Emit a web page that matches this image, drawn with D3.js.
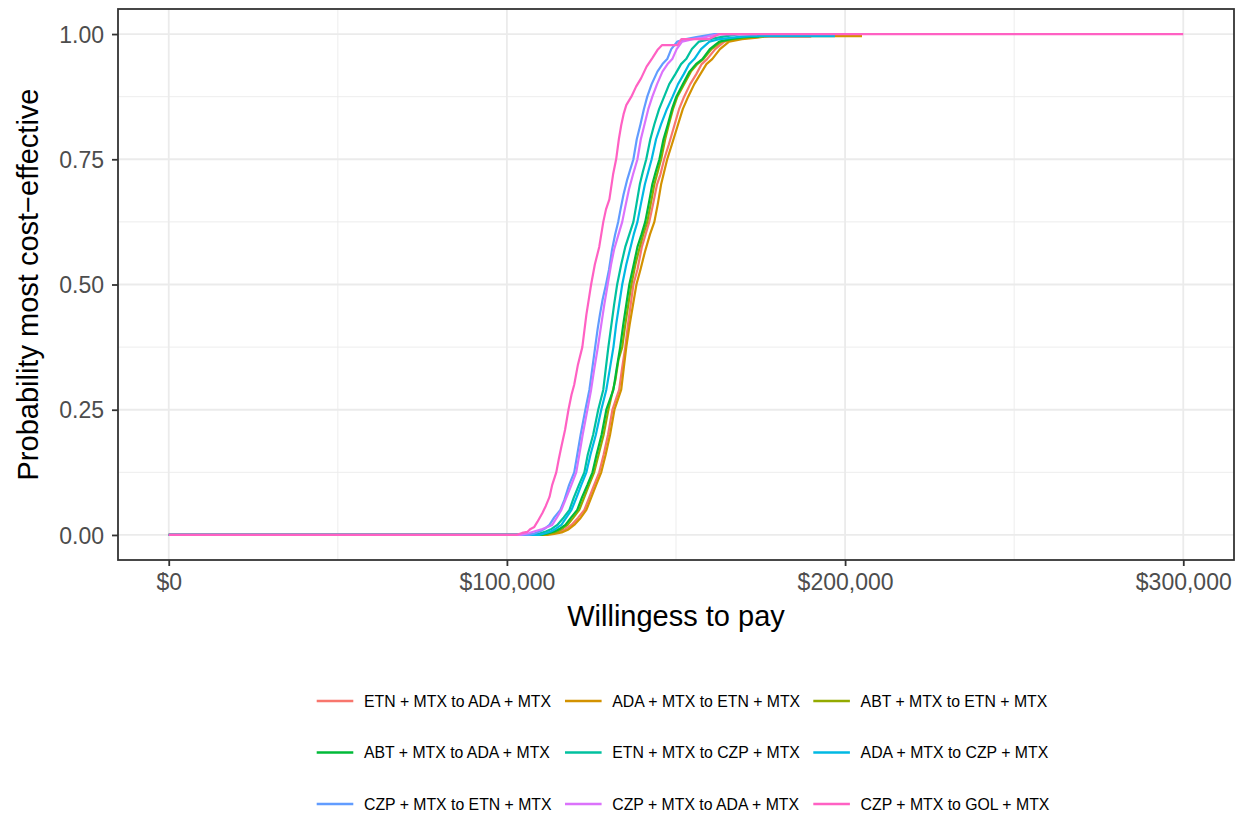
<!DOCTYPE html>
<html>
<head>
<meta charset="utf-8">
<script src="https://cdn.jsdelivr.net/npm/d3@7"></script>
<style>
    body { margin: 0; background: #ffffff; }
    text { font-family: "Liberation Sans", Arial, Helvetica, sans-serif; }
</style>
</head>
<body>
<svg id="chart" width="1246" height="818"></svg>
<script>
// willingness to pay in $ thousands, probability most cost-effective
var etnToAda = [[0,0],[111,0],[112.6,0.002],[115,0.005],[117.2,0.011],[119.1,0.02],[121,0.034],[122.9,0.05],[124.3,0.074],[125.8,0.1],[127.3,0.125],[128.6,0.16],[129.9,0.2],[131.2,0.25],[132.2,0.27],[133.2,0.29],[134,0.33],[135,0.375],[135.8,0.42],[136.6,0.46],[137.4,0.5],[138.6,0.53],[139.9,0.575],[141,0.6],[142.1,0.625],[143.2,0.66],[144.4,0.7],[145.4,0.72],[146.5,0.75],[147.9,0.78],[149.4,0.815],[150.9,0.85],[152.4,0.875],[154.2,0.9],[156,0.92],[157.6,0.94],[159.2,0.95],[161.6,0.97],[164.3,0.985],[168,0.99],[174.6,0.995],[190,0.995]];
var adaToEtn = [[0,0],[112,0],[114,0.002],[116.2,0.005],[118.2,0.011],[119.9,0.02],[121.8,0.034],[123.5,0.05],[124.9,0.074],[126.4,0.1],[127.9,0.125],[129.2,0.16],[130.5,0.2],[131.8,0.25],[132.8,0.27],[133.8,0.29],[134.5,0.33],[135.3,0.375],[136.3,0.42],[137.3,0.46],[138.3,0.5],[139.5,0.53],[140.8,0.565],[142.3,0.6],[143.6,0.625],[144.6,0.66],[145.6,0.7],[146.5,0.725],[147.4,0.75],[148.8,0.78],[150.4,0.815],[152,0.85],[153.6,0.875],[155.4,0.9],[157.2,0.92],[159,0.94],[160.7,0.95],[163,0.97],[165.7,0.985],[169.5,0.99],[174,0.993],[177.5,0.996],[205,0.996]];
var abtToEtn = [[0,0],[110.5,0],[112.6,0.003],[114.5,0.006],[116.3,0.012],[117.9,0.02],[119.6,0.034],[121.4,0.05],[122.8,0.074],[124.3,0.1],[125.8,0.125],[127.1,0.16],[128.6,0.2],[130,0.25],[131.2,0.285],[132.1,0.31],[133,0.35],[134.1,0.375],[135,0.42],[135.9,0.46],[136.8,0.5],[138,0.54],[139.1,0.57],[140.3,0.6],[141.5,0.625],[142.5,0.66],[143.6,0.7],[144.6,0.725],[145.6,0.75],[146.8,0.79],[147.9,0.82],[149.1,0.85],[150.4,0.875],[152.4,0.9],[154.4,0.925],[156.3,0.94],[158.1,0.95],[160.5,0.97],[163.4,0.985],[167,0.99],[173.1,0.995],[176,0.995]];
var abtToAda = [[0,0],[110,0],[112,0.003],[114,0.007],[115.8,0.013],[117.3,0.02],[119,0.035],[120.8,0.05],[122.2,0.075],[123.8,0.1],[125.3,0.125],[126.5,0.16],[128,0.2],[129.4,0.25],[131.5,0.29],[132.4,0.33],[133.5,0.375],[134.4,0.42],[135.3,0.46],[136.2,0.5],[137.5,0.54],[138.6,0.575],[139.8,0.6],[140.9,0.625],[141.9,0.66],[143,0.7],[144,0.725],[145.1,0.75],[146.3,0.79],[147.6,0.82],[148.8,0.85],[150.1,0.875],[152,0.9],[154,0.925],[155.9,0.94],[157.8,0.95],[160,0.97],[162.8,0.985],[166,0.99],[170,0.994],[174.6,0.995]];
var etnToCzp = [[0,0],[108,0],[109.6,0.003],[111.5,0.007],[113.2,0.012],[114.9,0.02],[116.8,0.035],[118.5,0.05],[119.8,0.075],[121.3,0.1],[122.9,0.125],[123.9,0.16],[125.5,0.2],[127,0.25],[128.5,0.29],[129.2,0.33],[130,0.375],[130.9,0.42],[131.7,0.46],[132.6,0.5],[133.8,0.54],[135,0.575],[136.2,0.6],[137.4,0.625],[138.3,0.66],[139.3,0.7],[140.2,0.725],[141.2,0.75],[142.4,0.79],[143.6,0.82],[145,0.85],[146.5,0.875],[148,0.9],[149.8,0.92],[151.5,0.94],[153,0.95],[154.7,0.97],[156.8,0.985],[160,0.99],[164,0.995],[168.7,1],[185,1]];
var adaToCzp = [[0,0],[109.5,0],[111.1,0.003],[113,0.007],[114.6,0.013],[116.1,0.02],[117.6,0.035],[119.1,0.05],[120.6,0.075],[122,0.1],[123.5,0.125],[124.7,0.16],[126.3,0.2],[127.9,0.25],[129.4,0.29],[130.4,0.33],[131.5,0.375],[132.3,0.42],[133.2,0.46],[134.1,0.5],[135.3,0.54],[136.4,0.57],[137.5,0.6],[138.6,0.625],[139.6,0.66],[140.8,0.7],[141.8,0.725],[142.8,0.75],[144.1,0.79],[145.6,0.82],[147.3,0.85],[149,0.875],[150.6,0.9],[152.3,0.92],[153.9,0.94],[155.4,0.95],[157.4,0.97],[159.9,0.985],[163,0.99],[168,0.994],[172,0.996],[197,0.996]];
var czpToEtn = [[0,0],[106.5,0],[108.1,0.003],[110,0.008],[111.5,0.014],[112.6,0.02],[114,0.035],[115.8,0.05],[117,0.07],[118.4,0.1],[119.9,0.125],[120.8,0.16],[121.8,0.2],[123.2,0.25],[124.4,0.29],[125.2,0.33],[126.1,0.375],[126.8,0.41],[127.5,0.44],[128.3,0.47],[129.3,0.5],[130.2,0.53],[131.1,0.57],[132,0.6],[132.9,0.625],[133.6,0.65],[134.5,0.68],[135.6,0.71],[136.5,0.73],[137.4,0.75],[138.4,0.79],[139.5,0.82],[140.5,0.85],[141.5,0.875],[142.8,0.9],[144.5,0.925],[146,0.94],[147.4,0.95],[148.6,0.97],[150.4,0.985],[153,0.99],[156,0.994],[161.3,1],[172,1]];
var czpToAda = [[0,0],[104,0],[106.6,0.004],[108.5,0.008],[110.5,0.012],[112,0.016],[113.4,0.02],[114.8,0.035],[116.1,0.05],[117.3,0.07],[118.8,0.095],[120.5,0.125],[121.4,0.16],[122.4,0.2],[123.8,0.25],[124.9,0.29],[125.8,0.33],[126.9,0.375],[127.9,0.42],[128.8,0.46],[129.8,0.5],[130.8,0.54],[131.7,0.57],[133,0.6],[134.1,0.625],[135,0.655],[136.1,0.69],[137.3,0.72],[138.6,0.75],[139.6,0.79],[140.7,0.82],[141.8,0.85],[143,0.875],[144.4,0.9],[146,0.925],[147.5,0.94],[148.9,0.95],[150.2,0.97],[151.8,0.985],[155,0.99],[158,0.993],[162.8,1],[174,1]];
var czpToGol = [[0,0],[102.8,0],[104.5,0.004],[106,0.006],[107,0.012],[108.1,0.016],[109,0.026],[110.5,0.044],[111.5,0.058],[112.6,0.076],[113.4,0.1],[114.6,0.125],[115.3,0.15],[116.1,0.176],[117.2,0.21],[118.2,0.25],[119.1,0.28],[119.9,0.3],[121,0.34],[122.3,0.375],[123.5,0.44],[124.9,0.5],[126,0.54],[127.3,0.575],[128.5,0.625],[129.3,0.65],[130.3,0.67],[131.4,0.72],[132.3,0.75],[133.1,0.79],[133.8,0.818],[134.5,0.84],[135.3,0.858],[136.8,0.875],[138.2,0.895],[139.7,0.912],[141.3,0.935],[143,0.952],[144.5,0.968],[145.9,0.978],[150.4,0.978],[151.6,0.99],[159.8,0.99],[162.8,1],[300,1]];

var seriesNames = ["ETN + MTX to ADA + MTX", "ADA + MTX to ETN + MTX", "ABT + MTX to ETN + MTX",
    "ABT + MTX to ADA + MTX", "ETN + MTX to CZP + MTX", "ADA + MTX to CZP + MTX",
    "CZP + MTX to ETN + MTX", "CZP + MTX to ADA + MTX", "CZP + MTX to GOL + MTX"];
var seriesValues = [etnToAda, adaToEtn, abtToEtn, abtToAda, etnToCzp, adaToCzp, czpToEtn, czpToAda, czpToGol];
var seriesColors = ["#F8766D", "#D39200", "#93AA00", "#00BA38", "#00C19F", "#00B9E3", "#619CFF", "#DB72FB", "#FF61C3"];

var xTicks = [0, 100000, 200000, 300000];
var xMinorTicks = [50000, 150000, 250000];
var yTicks = [0, 0.25, 0.5, 0.75, 1];
var yMinorTicks = [0.125, 0.375, 0.625, 0.875];

var svg = d3.select("#chart");
var panel = {left: 118, right: 1234, top: 9, bottom: 560};

// ggplot style 5% expansion of the data range
var x = d3.scaleLinear().domain([-15000, 315000]).range([panel.left, panel.right]);
var y = d3.scaleLinear().domain([-0.05, 1.05]).range([panel.bottom, panel.top]);

var grid = svg.append("g");
grid.selectAll("line.xminor").data(xMinorTicks).enter().append("line")
    .attr("x1", function (d) { return x(d); }).attr("x2", function (d) { return x(d); })
    .attr("y1", panel.top).attr("y2", panel.bottom)
    .attr("stroke", "#EBEBEB").attr("stroke-width", 0.9);
grid.selectAll("line.yminor").data(yMinorTicks).enter().append("line")
    .attr("y1", function (d) { return y(d); }).attr("y2", function (d) { return y(d); })
    .attr("x1", panel.left).attr("x2", panel.right)
    .attr("stroke", "#EBEBEB").attr("stroke-width", 0.9);
grid.selectAll("line.xmajor").data(xTicks).enter().append("line")
    .attr("x1", function (d) { return x(d); }).attr("x2", function (d) { return x(d); })
    .attr("y1", panel.top).attr("y2", panel.bottom)
    .attr("stroke", "#EBEBEB").attr("stroke-width", 1.8);
grid.selectAll("line.ymajor").data(yTicks).enter().append("line")
    .attr("y1", function (d) { return y(d); }).attr("y2", function (d) { return y(d); })
    .attr("x1", panel.left).attr("x2", panel.right)
    .attr("stroke", "#EBEBEB").attr("stroke-width", 1.8);

var line = d3.line()
    .x(function (d) { return x(d[0] * 1000); })
    .y(function (d) { return y(d[1]); });

svg.append("g").selectAll("path").data(seriesValues).enter().append("path")
    .attr("d", line)
    .attr("fill", "none")
    .attr("stroke", function (d, i) { return seriesColors[i]; })
    .attr("stroke-width", 2.2)
    .attr("stroke-linejoin", "round");

svg.append("rect")
    .attr("x", panel.left).attr("y", panel.top)
    .attr("width", panel.right - panel.left).attr("height", panel.bottom - panel.top)
    .attr("fill", "none").attr("stroke", "#333333").attr("stroke-width", 1.8);

// axes
var xAxis = d3.axisBottom(x).tickValues(xTicks).tickSize(6).tickPadding(6)
    .tickFormat(function (d) { return "$" + d3.format(",")(d); });
var gx = svg.append("g").attr("transform", "translate(0," + panel.bottom + ")").call(xAxis);
gx.select(".domain").remove();
gx.selectAll(".tick line").attr("stroke", "#333333").attr("stroke-width", 1.8);
gx.selectAll(".tick text").attr("fill", "#4D4D4D").attr("font-size", "23px")
    .attr("y", 30).attr("dy", 0);

var yAxis = d3.axisLeft(y).tickValues(yTicks).tickSize(6).tickPadding(8)
    .tickFormat(d3.format(".2f"));
var gy = svg.append("g").attr("transform", "translate(" + panel.left + ",0)").call(yAxis);
gy.select(".domain").remove();
gy.selectAll(".tick line").attr("stroke", "#333333").attr("stroke-width", 1.8);
gy.selectAll(".tick text").attr("fill", "#4D4D4D").attr("font-size", "23px")
    .attr("x", -14).attr("dy", "0.35em");
svg.selectAll(".tick text").attr("font-family", "Liberation Sans, Arial, sans-serif");

svg.append("text")
    .attr("x", (panel.left + panel.right) / 2).attr("y", 626)
    .attr("text-anchor", "middle").attr("font-size", "29px").attr("fill", "#000000")
    .text("Willingess to pay");
svg.append("text")
    .attr("transform", "translate(38," + ((panel.top + panel.bottom) / 2) + ") rotate(-90)")
    .attr("text-anchor", "middle").attr("font-size", "29px").attr("fill", "#000000")
    .text("Probability most cost\u2212effective");

// legend, three columns by three rows
var legend = svg.append("g");
var items = legend.selectAll("g").data(seriesNames).enter().append("g")
    .attr("transform", function (d, i) {
        return "translate(" + (316.7 + (i % 3) * 248.3) + "," + (701 + Math.floor(i / 3) * 51.5) + ")";
    });
items.append("line")
    .attr("x1", 0).attr("x2", 36.6).attr("y1", 0).attr("y2", 0)
    .attr("stroke", function (d, i) { return seriesColors[i]; })
    .attr("stroke-width", 2.4);
items.append("text")
    .attr("x", 47.3).attr("y", 0).attr("dy", "0.35em")
    .attr("font-size", "15.8px").attr("fill", "#000000")
    .text(function (d) { return d; });
</script>
</body>
</html>
